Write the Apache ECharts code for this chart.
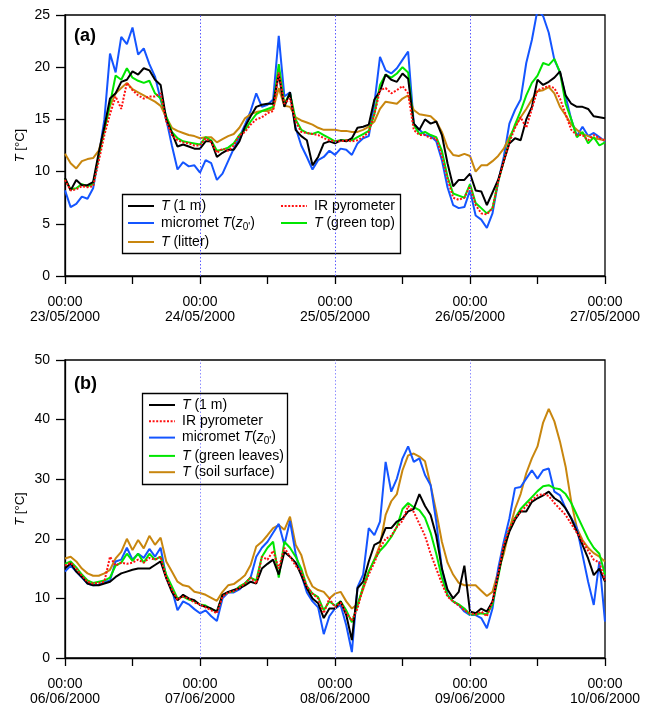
<!DOCTYPE html>
<html><head><meta charset="utf-8">
<script src="https://cdn.jsdelivr.net/npm/echarts@6/dist/echarts.min.js"></script>
<style>html,body{margin:0;padding:0;background:#fff}#c{width:653px;height:707px}</style>
</head><body><div id="c"></div>
<script>
// ---------- tick labels ----------
const ticksA = ['00:00\n23/05/2000','00:00\n24/05/2000','00:00\n25/05/2000','00:00\n26/05/2000','00:00\n27/05/2000'];
const ticksB = ['00:00\n06/06/2000','00:00\n07/06/2000','00:00\n08/06/2000','00:00\n09/06/2000','00:00\n10/06/2000'];
const midnights = [24, 48, 72]; // hours since start
// ---------- panel (a): hourly values, hour 0..96 ----------
const aT1m = [9.4,8.2,9.2,8.7,8.7,9.0,11.8,14.3,17.0,17.5,18.6,18.8,19.6,19.3,19.9,19.7,18.8,18.3,15.0,13.7,12.4,12.6,12.4,12.2,
 12.2,12.9,12.9,11.4,11.8,12.1,12.1,12.9,14.3,15.3,16.2,16.4,16.5,16.5,19.3,16.2,17.6,14.0,13.4,13.0,10.6,11.4,12.7,12.9,
 12.7,13.0,12.9,13.2,14.2,14.3,14.5,16.9,17.7,19.3,18.8,18.6,19.4,18.9,14.6,14.0,15.0,14.6,14.8,13.5,10.8,8.6,9.2,9.2,
 9.8,8.2,8.1,6.8,8.0,9.2,11.0,12.7,13.2,13.0,15.0,16.2,18.8,18.3,18.6,19.0,19.6,17.3,16.5,16.2,16.2,16.0,15.3,15.2,15.1];
const aMicromet = [8.2,6.6,6.9,7.6,7.4,8.4,11.5,15.0,21.3,19.5,22.9,22.2,23.8,21.2,21.8,20.3,19.1,16.9,15.0,12.5,10.2,10.9,10.5,10.6,
 9.9,11.1,10.8,9.2,9.8,11.0,12.2,13.3,14.5,15.8,17.5,16.2,16.4,16.9,23.0,17.2,17.6,14.2,12.5,11.4,10.2,11.1,11.4,12.0,
 11.6,12.2,12.1,11.6,12.7,13.2,13.4,16.5,21.0,19.7,19.4,19.9,20.7,21.5,14.6,14.0,13.5,13.4,12.9,11.1,8.5,6.8,6.5,6.6,
 8.2,5.8,5.4,4.6,6.0,9.0,11.4,14.6,15.9,16.9,20.4,22.6,25.5,24.9,23.3,20.7,19.5,17.2,15.0,13.4,14.3,13.4,13.7,13.3,12.9];
const aLitter = [11.7,10.8,10.3,11.0,11.2,11.3,12.0,14.0,16.3,17.5,18.0,18.5,17.9,17.6,17.3,17.0,16.7,16.3,15.2,14.2,13.9,13.7,13.5,13.4,
 13.2,13.3,13.3,12.8,13.1,13.4,13.6,14.2,15.1,15.5,15.7,15.8,15.8,16.0,18.0,16.3,16.2,15.2,14.9,14.7,14.5,14.2,14.0,14.0,
 14.0,13.9,13.9,13.8,13.8,14.0,14.3,14.8,16.0,16.7,16.6,16.5,17.0,17.3,15.9,15.5,15.4,15.3,14.8,13.8,12.3,11.6,11.5,11.7,
 11.5,10.0,10.6,10.6,11.0,11.5,12.2,13.3,14.3,15.2,16.0,16.9,17.7,17.8,18.1,17.5,16.2,15.4,14.5,14.0,13.6,13.4,13.2,13.1,13.0];
const aIR = [9.2,8.2,8.3,8.6,8.5,8.6,11.0,13.5,15.5,17.2,16.0,18.5,17.8,17.3,17.0,17.2,17.2,17.5,14.8,13.5,13.0,12.8,12.7,12.5,
 12.5,13.2,12.8,11.8,12.2,12.0,12.5,13.5,13.8,14.5,15.0,15.2,15.6,15.8,19.5,16.5,17.0,14.8,13.8,13.7,13.6,13.5,13.2,13.0,
 12.9,12.9,13.0,12.9,13.0,13.3,13.8,15.5,17.8,18.0,17.5,17.8,18.2,17.5,14.0,13.5,13.5,13.2,13.2,11.5,9.3,7.5,7.3,7.5,
 8.6,6.8,6.0,5.9,6.5,9.0,11.0,12.8,14.2,15.2,14.2,16.0,17.8,18.0,18.2,18.0,17.0,15.5,14.0,13.5,13.5,13.0,13.5,13.2,13.0];
const aGreenTop = [9.3,8.3,8.4,8.8,8.6,8.8,11.5,14.0,16.5,19.2,18.8,19.9,19.0,18.7,18.5,18.7,17.5,17.0,15.3,13.8,13.2,12.9,12.8,12.7,
 12.6,13.3,13.0,12.0,12.1,12.3,12.7,13.5,14.0,14.8,15.5,15.8,16.0,16.2,20.3,16.5,17.5,15.0,14.0,13.7,13.6,13.8,13.5,13.2,
 12.9,13.0,13.0,13.0,13.3,13.6,13.9,15.5,18.3,19.3,19.0,19.4,20.0,19.5,14.5,13.6,13.8,13.5,13.3,12.0,9.5,7.9,7.7,7.5,
 8.8,7.0,6.5,6.0,6.5,9.0,11.0,13.0,14.5,15.8,17.3,18.5,19.2,20.4,20.2,20.8,19.5,16.5,15.0,13.3,13.8,12.7,13.3,12.5,12.8];
// ---------- panel (b): hourly values, hour 0..96 ----------
const bT1m = [15.0,15.9,14.5,13.6,12.5,12.2,12.2,12.5,12.8,13.6,14.2,14.5,14.8,15.0,15.0,15.0,15.6,16.2,13.4,11.1,9.7,10.6,10.0,9.7,
 8.9,8.6,8.3,7.8,10.6,11.1,11.4,11.7,12.2,12.8,12.5,15.0,15.8,16.5,14.0,17.8,17.0,16.0,13.9,11.7,10.0,9.2,6.7,8.3,
 8.3,9.5,7.2,3.0,11.7,12.8,16.2,19.0,19.5,21.8,21.8,22.9,23.4,24.6,25.0,27.5,25.5,24.0,20.5,15.0,11.5,10.0,11.1,15.5,
 7.8,7.5,8.3,7.8,9.5,13.9,18.4,21.2,23.2,24.6,24.6,26.2,26.8,27.3,27.9,26.8,26.2,25.1,23.4,21.2,19.0,16.7,13.9,15.0,12.8];
const bIR = [15.5,16.0,15.0,13.8,12.8,12.5,12.6,12.8,17.0,15.5,16.0,15.8,16.0,16.5,16.0,16.8,16.5,17.0,13.5,11.5,9.8,10.3,10.0,9.3,
 9.0,8.5,8.0,7.5,10.3,11.0,11.2,11.8,12.5,13.5,12.5,17.0,16.5,18.0,15.0,18.5,17.0,15.5,14.5,12.0,10.8,10.0,7.5,10.0,
 8.5,9.3,7.5,6.3,8.3,11.8,14.0,16.0,18.5,20.0,20.5,22.0,23.0,25.5,24.5,22.5,20.5,17.5,15.0,12.5,10.3,9.5,8.8,8.0,
 7.5,7.3,7.8,7.0,9.5,14.0,19.0,21.8,23.5,24.5,25.5,26.5,27.3,27.5,27.2,26.0,25.0,24.0,22.5,21.0,19.5,18.0,16.5,16.0,13.0];
const bMicromet = [14.5,15.5,14.5,13.5,12.5,12.2,12.3,12.7,13.0,16.2,16.5,18.5,16.5,17.5,16.8,18.3,17.0,18.5,13.5,11.5,8.0,9.5,9.0,8.2,
 7.5,8.0,7.0,6.2,10.0,11.0,11.0,11.5,12.5,13.5,17.0,18.5,19.5,21.0,22.5,19.0,23.0,17.5,14.0,11.0,9.5,8.5,4.0,7.0,
 8.3,8.9,5.5,1.0,11.9,14.0,21.8,20.6,22.9,32.9,27.9,30.1,33.5,35.5,32.9,33.5,30.7,29.0,22.9,15.0,10.6,9.5,8.9,7.8,
 7.2,7.2,6.7,5.0,8.3,15.0,19.5,23.4,28.5,28.7,30.1,31.5,30.1,31.5,31.8,27.9,27.3,25.1,23.5,21.8,17.3,12.8,8.9,16.2,6.1];
const bGreenLeaves = [15.8,16.2,15.2,14.0,13.0,12.6,12.8,13.0,13.5,15.5,16.0,17.5,16.3,17.5,16.0,17.5,16.5,17.0,14.0,12.0,10.0,10.3,9.8,9.5,
 9.0,8.8,8.2,7.8,10.5,11.0,11.2,12.0,12.5,13.5,13.0,17.0,18.5,19.5,13.5,19.5,18.5,17.0,15.0,12.0,10.8,10.2,8.0,9.5,
 8.8,9.5,8.0,6.0,8.8,12.0,14.5,16.5,18.0,19.0,20.3,22.0,25.0,26.0,25.3,24.8,23.5,21.0,17.5,13.5,10.5,9.5,9.0,8.3,
 7.3,7.3,7.5,7.3,9.0,13.5,18.5,21.5,23.5,25.0,26.0,27.0,28.0,28.8,29.0,28.5,28.3,27.5,26.0,24.0,22.0,20.0,18.5,17.5,14.0];
const bSoil = [16.7,17.0,16.2,15.0,14.2,13.8,13.8,14.2,14.8,16.7,17.8,20.0,18.1,19.8,18.4,20.5,19.0,20.2,16.2,14.5,12.8,12.2,12.0,11.1,
 10.9,10.6,10.1,9.6,11.1,12.2,12.4,13.1,13.9,15.6,18.7,19.5,20.6,21.8,22.3,21.5,23.7,19.0,17.3,13.9,12.0,11.4,11.1,10.0,
 10.8,11.1,9.5,8.3,9.0,11.5,14.5,16.5,19.0,24.0,26.3,27.5,31.5,34.0,34.3,33.8,33.0,29.0,24.5,19.5,16.0,14.0,12.6,12.2,
 12.2,12.2,11.3,10.4,11.1,14.5,17.5,21.5,25.0,27.5,31.0,33.5,35.5,39.5,41.8,39.7,36.3,32.1,26.2,21.8,19.8,18.5,17.6,17.0,16.2];

const FONT = '"Liberation Sans", Arial, sans-serif';
const C = {black:'#000000', blue:'#1455ff', brown:'#c8860e', green:'#00e600', red:'#ff1010'};
const xy = arr => arr.map((v, i) => [i, v]);

function line(name, arr, color, gi, dotted, extra) {
  const s = {
    name, type: 'line', xAxisIndex: gi, yAxisIndex: gi, data: xy(arr),
    symbol: 'none', showSymbol: false, animation: false, clip: true,
    lineStyle: {color, width: 2, type: dotted ? [2, 1.6] : 'solid'},
    itemStyle: {color}
  };
  return Object.assign(s, extra || {});
}
function vLines(color) {
  return {
    silent: true, symbol: ['none','none'], label: {show: false}, animation: false,
    lineStyle: {color, type: [1.5, 2], width: 1},
    data: midnights.map(h => ({xAxis: h}))
  };
}

const legendRich = {
  i: {fontStyle: 'italic', fontSize: 14, fontFamily: FONT, color: '#000', lineHeight: 18},
  n: {fontSize: 14, fontFamily: FONT, color: '#000', lineHeight: 18},
  s: {fontSize: 10, fontFamily: FONT, color: '#000', lineHeight: 10, verticalAlign: 'bottom'}
};
const legendFmt = {
  'T (1 m)': '{i|T}{n| (1 m)}',
  "micromet T(z0')": "{n|micromet }{i|T}{n|(}{i|z}{s|0'}{n|)}",
  'T (litter)': '{i|T}{n| (litter)}',
  'IR pyrometer': '{n|IR pyrometer}',
  'T (green top)': '{i|T}{n| (green top)}',
  'T (green leaves)': '{i|T}{n| (green leaves)}',
  'T (soil surface)': '{i|T}{n| (soil surface)}'
};
function legend(left, top, data, gap) {
  return {
    left, top, orient: 'vertical', data, itemWidth: 26, itemHeight: 4, itemGap: gap,
    selectedMode: false, padding: 0, z: 20,
    itemStyle: {color: 'transparent', borderColor: 'transparent', borderWidth: 0},
    formatter: n => legendFmt[n],
    textStyle: {rich: legendRich, color: '#000', fontFamily: FONT, fontSize: 14, padding: [0,0,0,2]}
  };
}

function xAxis(gi, labels) {
  return {
    type: 'value', gridIndex: gi, min: 0, max: 96, interval: 12,
    axisLine: {show: true, onZero: false, lineStyle: {color: '#000', width: 1.3}},
    axisTick: {show: true, inside: false, length: 8, lineStyle: {color: '#000', width: 1.3}},
    splitLine: {show: false},
    axisLabel: {
      show: true, margin: 19, color: '#000', fontSize: 14, fontFamily: FONT, lineHeight: 15,
      showMinLabel: true, showMaxLabel: true, hideOverlap: false,
      formatter: v => (v % 24 === 0 ? labels[v / 24] : '')
    }
  };
}
function yAxis(gi, max, interval) {
  return {
    type: 'value', gridIndex: gi, min: 0, max, interval,
    name: '{i|T} [°C]', nameLocation: 'middle', nameGap: 38, nameRotate: 90, nameMoveOverlap: false,
    nameTextStyle: {color: '#000', fontSize: 13, fontFamily: FONT,
      rich: {i: {fontStyle: 'italic', fontSize: 13, fontFamily: FONT, color: '#000'}}},
    axisLine: {show: true, lineStyle: {color: '#000', width: 1.3}},
    axisTick: {show: true, inside: false, length: 9, lineStyle: {color: '#000', width: 1.3}},
    splitLine: {show: false},
    axisLabel: {margin: 15, color: '#000', fontSize: 14, fontFamily: FONT}
  };
}

const chart = echarts.init(document.getElementById('c'), null, {renderer: 'canvas'});
chart.setOption({
  backgroundColor: '#fff',
  animation: false,
  textStyle: {fontFamily: FONT},
  grid: [
    {left: 65, top: 15, width: 540, height: 261, show: true, borderColor: '#000', borderWidth: 1.3, backgroundColor: 'transparent'},
    {left: 65, top: 360, width: 540, height: 298, show: true, borderColor: '#000', borderWidth: 1.3, backgroundColor: 'transparent'}
  ],
  xAxis: [xAxis(0, ticksA), xAxis(1, ticksB)],
  yAxis: [yAxis(0, 25, 5), yAxis(1, 50, 10)],
  legend: [
    legend(127, 199, ['T (1 m)', "micromet T(z0')", 'T (litter)'], 3),
    legend(280, 199, ['IR pyrometer', 'T (green top)'], 3),
    legend(148, 398, ['T (1 m)', 'IR pyrometer', "micromet T(z0')", 'T (green leaves)', 'T (soil surface)'], 2.3)
  ],
  graphic: [
    {type: 'rect', shape: {x: 122.5, y: 194.5, width: 278, height: 59}, style: {fill: '#fff', stroke: '#000', lineWidth: 1.3}, z: 3},
    {type: 'rect', shape: {x: 142.5, y: 393.5, width: 145, height: 91}, style: {fill: '#fff', stroke: '#000', lineWidth: 1.3}, z: 3},
    {type: 'text', left: 74, top: 27, style: {text: '(a)', font: 'bold 18px ' + FONT, fill: '#000'}, z: 6},
    {type: 'text', left: 74, top: 375, style: {text: '(b)', font: 'bold 18px ' + FONT, fill: '#000'}, z: 6}
  ],
  series: [
    line("micromet T(z0')", aMicromet, C.blue, 0, false, {markLine: vLines('#5a5aff')}),
    line('T (litter)', aLitter, C.brown, 0, false),
    line('T (green top)', aGreenTop, C.green, 0, false),
    line('T (1 m)', aT1m, C.black, 0, false),
    line('IR pyrometer', aIR, C.red, 0, true),
    line('T (soil surface)', bSoil, C.brown, 1, false, {markLine: vLines('#8f8fff')}),
    line("micromet T(z0')", bMicromet, C.blue, 1, false),
    line('T (green leaves)', bGreenLeaves, C.green, 1, false),
    line('T (1 m)', bT1m, C.black, 1, false),
    line('IR pyrometer', bIR, C.red, 1, true)
  ]
});
</script>
</body></html>
